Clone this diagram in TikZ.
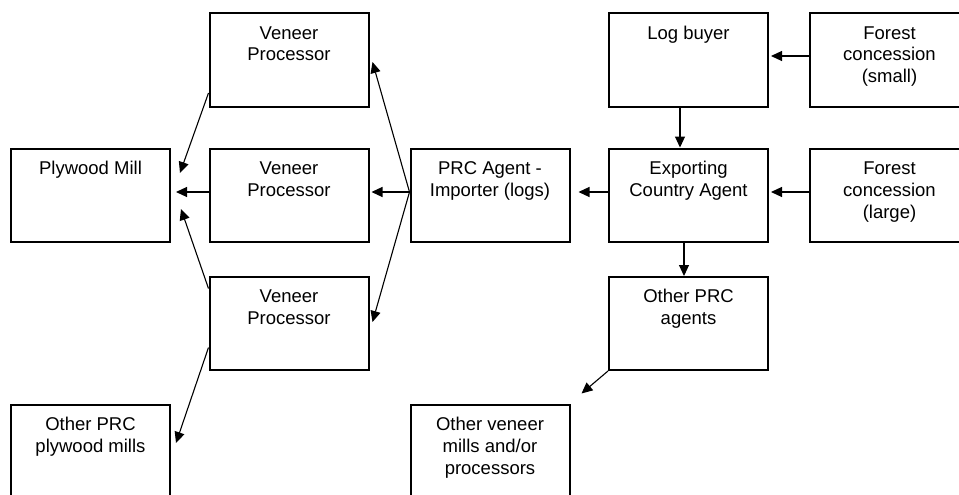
\documentclass[tikz,border=0pt]{standalone}
\usepackage{fontspec}
\setmainfont{Liberation Sans}
\usetikzlibrary{arrows.meta,calc}
\newcommand{\boxtxt}[1]{\parbox[c][93pt][t]{159pt}{\centering\rule{0pt}{25.5pt}#1\par}}
\tikzset{
  box/.style={draw=black, line width=2pt, rectangle, inner sep=0pt,
    minimum width=159pt, minimum height=93pt, font=\fontsize{18.5}{22}\selectfont},
  arr/.style={draw=black, line width=1.1pt, -{Triangle[length=11pt,width=10pt]}}
}
\begin{document}
\begin{tikzpicture}[x=1pt,y=-1pt]
\clip (0,0) rectangle (959,495);
\fill[white] (0,0) rectangle (959,495);
\node[box] (vp1) at (289,60) {\boxtxt{Veneer\\Processor}};
\node[box] (pm)  at (90.5,195) {\boxtxt{Plywood Mill}};
\node[box] (vp2) at (289,195) {\boxtxt{Veneer\\Processor}};
\node[box] (vp3) at (289,323.5) {\boxtxt{Veneer\\Processor}};
\node[box] (opm) at (90.5,451) {\boxtxt{Other PRC\\plywood mills}};
\node[box] (prc) at (490,195) {\boxtxt{PRC Agent -\\Importer (logs)}};
\node[box] (ovm) at (490,451) {\boxtxt{Other veneer\\mills and/or\\processors}};
\node[box] (lb)  at (688.5,60) {\boxtxt{Log buyer}};
\node[box] (eca) at (688.5,195) {\boxtxt{Exporting\\Country Agent}};
\node[box] (opa) at (688.5,323.5) {\boxtxt{Other PRC\\agents}};
\node[box] (fs)  at (889.5,60) {\boxtxt{Forest\\concession\\(small)}};
\node[box] (fl)  at (889.5,195) {\boxtxt{Forest\\concession\\(large)}};

\draw[arr] ($(vp1.west)+(0,33)$) -- ($(pm.east)+(9,-22)$);
\draw[arr] ($(vp2.west)+(0,-3)$) -- ($(pm.east)+(5,-3)$);
\draw[arr] ($(vp3.west)+(0,-35)$) -- ($(pm.east)+(10,14)$);
\draw[arr] ($(vp3.west)+(0,24)$) -- ($(opm.east)+(5,-8)$);
\draw[arr] ($(prc.west)+(0,-3)$) -- ($(vp2.east)+(2,-3)$);
\draw[arr] ($(prc.west)+(0,-3)$) -- ($(vp1.east)+(3,2)$);
\draw[arr] ($(prc.west)+(0,-3)$) -- ($(vp3.east)+(3,-1.5)$);
\draw[arr] ($(eca.west)+(0,-3)$) -- ($(prc.east)+(8,-3)$);
\draw[arr] ($(lb.south)+(-8.5,0)$) -- ($(eca.north)+(-8.5,0)$);
\draw[arr] ($(fs.west)+(0,-4)$) -- ($(lb.east)+(2,-4)$);
\draw[arr] ($(fl.west)+(0,-3)$) -- ($(eca.east)+(2,-3)$);
\draw[arr] ($(eca.south)+(-4.5,0)$) -- ($(opa.north)+(-4.5,0)$);
\draw[arr] (opa.south west) -- ($(ovm.north east)+(11,-10)$);
\end{tikzpicture}
\end{document}
